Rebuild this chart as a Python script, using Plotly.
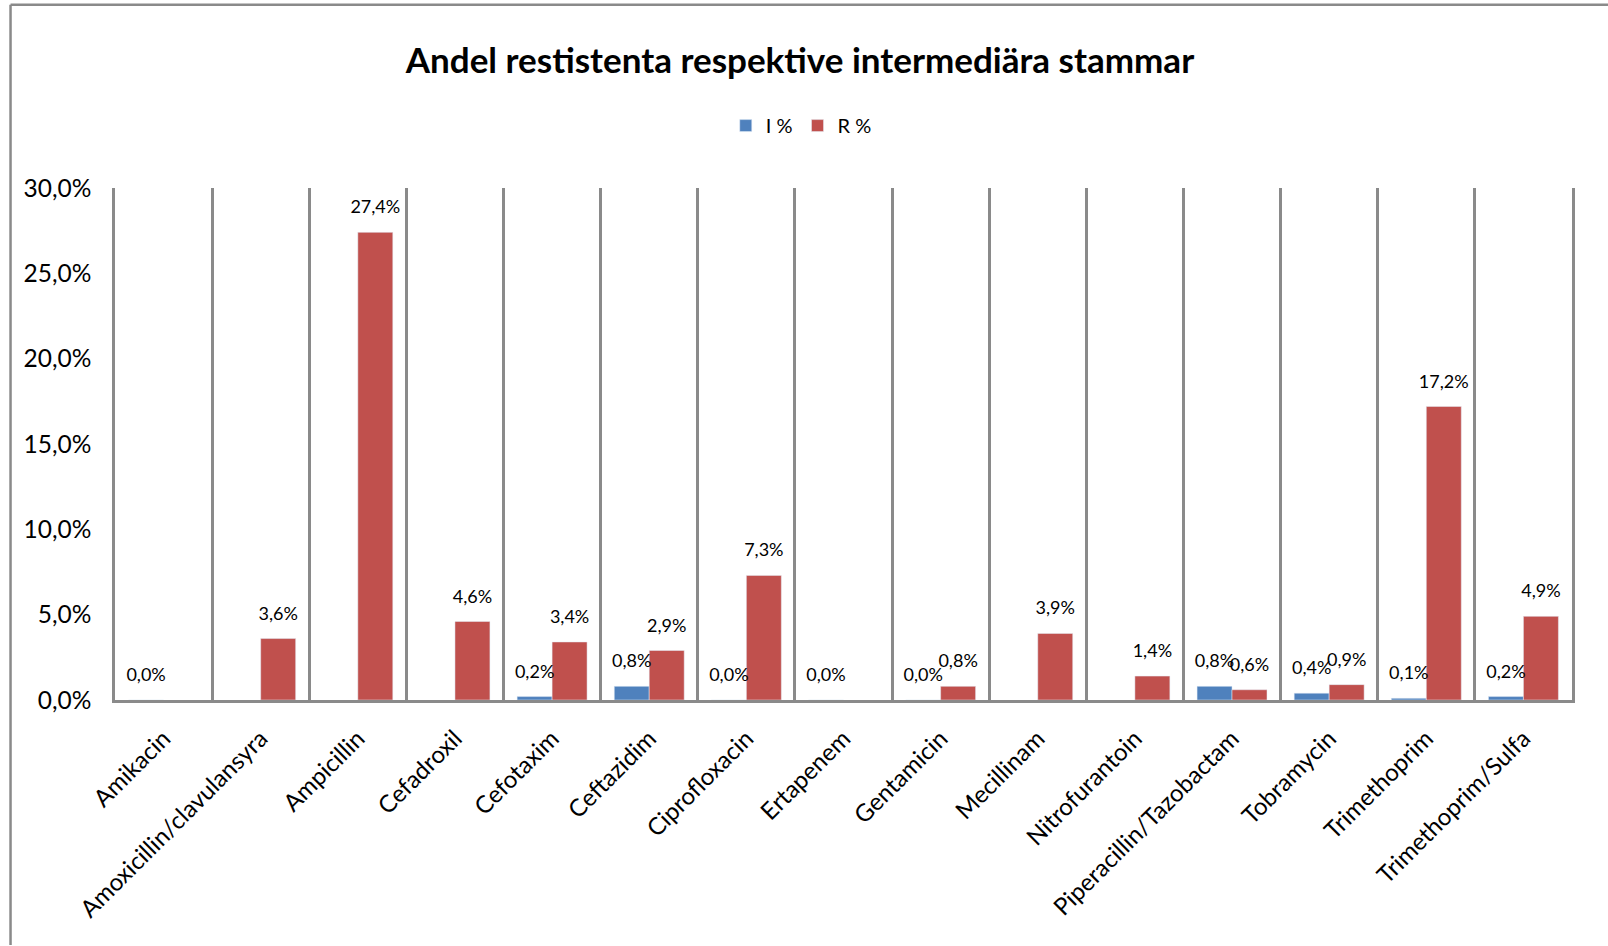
import plotly.graph_objects as go

categories = ["Amikacin", "Amoxicillin/clavulansyra", "Ampicillin", "Cefadroxil", "Cefotaxim",
              "Ceftazidim", "Ciprofloxacin", "Ertapenem", "Gentamicin", "Mecillinam",
              "Nitrofurantoin", "Piperacillin/Tazobactam", "Tobramycin", "Trimethoprim",
              "Trimethoprim/Sulfa"]
i_pct = [0.0, None, None, None, 0.2, 0.8, 0.0, 0.0, 0.0, None, None, 0.8, 0.4, 0.1, 0.2]
r_pct = [None, 3.6, 27.4, 4.6, 3.4, 2.9, 7.3, None, 0.8, 3.9, 1.4, 0.6, 0.9, 17.2, 4.9]
y_ticks = [0, 5, 10, 15, 20, 25, 30]
y_ticktext = ["0,0%", "5,0%", "10,0%", "15,0%", "20,0%", "25,0%", "30,0%"]

BLUE = "#4F81BD"
RED = "#C0504D"
GRID = "#8A8A8A"
FONT = "Lato, Open Sans, sans-serif"
LABEL_GAP = 0.7  # height (axis units) of the invisible spacer whose outside text is the label

W, H = 1608, 946
L, R, T, B = 114.5, 1572, 187.5, 700.5
PW, PH = R - L, B - T


def fmt(v):
    return "" if v is None else f"{v:.1f}".replace(".", ",") + "%"


fig = go.Figure()
fig.add_trace(go.Bar(name="I %", x=categories, y=i_pct, marker_color=BLUE,
                     offsetgroup="I", hoverinfo="x+y"))
fig.add_trace(go.Bar(name="R %", x=categories, y=r_pct, marker_color=RED,
                     offsetgroup="R", hoverinfo="x+y"))
# invisible spacers above the bars that carry the data labels
for vals, grp in ((i_pct, "I"), (r_pct, "R")):
    fig.add_trace(go.Bar(x=categories, base=vals,
                         y=[None if v is None else LABEL_GAP for v in vals],
                         text=[fmt(v) for v in vals], textposition="outside",
                         textangle=0, constraintext="none",
                         outsidetextfont=dict(family=FONT, size=18, color="#000"),
                         marker=dict(color="rgba(0,0,0,0)", line=dict(width=0)),
                         offsetgroup=grp, showlegend=False, hoverinfo="skip",
                         cliponaxis=False))

fig.update_layout(
    width=W, height=H,
    paper_bgcolor="white", plot_bgcolor="white",
    margin=dict(l=L, r=W - R, t=T, b=H - B, autoexpand=False),
    barmode="group", bargap=0.28, bargroupgap=0,
    title=dict(text="<b>Andel restistenta respektive intermediära stammar</b>",
               x=800 / W, xanchor="center", y=1 - 61 / H, yanchor="middle",
               font=dict(family=FONT, size=35, color="#000")),
    legend=dict(orientation="h", x=(801 - L) / PW, xanchor="center",
                y=(B - 125) / PH, yanchor="middle",
                font=dict(family=FONT, size=20, color="#000"),
                itemwidth=30, traceorder="normal"),
    showlegend=True,
)
fig.update_xaxes(type="category", range=[-0.5, len(categories) - 0.5],
                 tickson="boundaries", showgrid=True, gridcolor=GRID,
                 gridwidth=2.5, showline=True, linecolor=GRID, linewidth=3,
                 ticks="", tickangle=-45, ticklabelstandoff=12,
                 tickfont=dict(family=FONT, size=24, color="#000"))
fig.update_yaxes(range=[0, 30], tickvals=y_ticks, ticktext=y_ticktext, showgrid=False,
                 zeroline=False, showline=True, mirror=True, linecolor=GRID, linewidth=2.5,
                 ticks="", ticklabelstandoff=16,
                 tickfont=dict(family=FONT, size=24.5, color="#000"))

# outer chart-area border (left and top edges)
bx, by = (10 - L) / PW, (B - 4) / PH
fig.add_shape(type="line", xref="paper", yref="paper",
              x0=bx, x1=bx, y0=by, y1=(B - H) / PH, line=dict(color=GRID, width=2.5))
fig.add_shape(type="line", xref="paper", yref="paper",
              x0=bx, x1=(W - L) / PW, y0=by, y1=by, line=dict(color=GRID, width=2.5))

fig.write_html("out.html", config={"displayModeBar": False},
               post_script="document.body.style.margin='0';")
